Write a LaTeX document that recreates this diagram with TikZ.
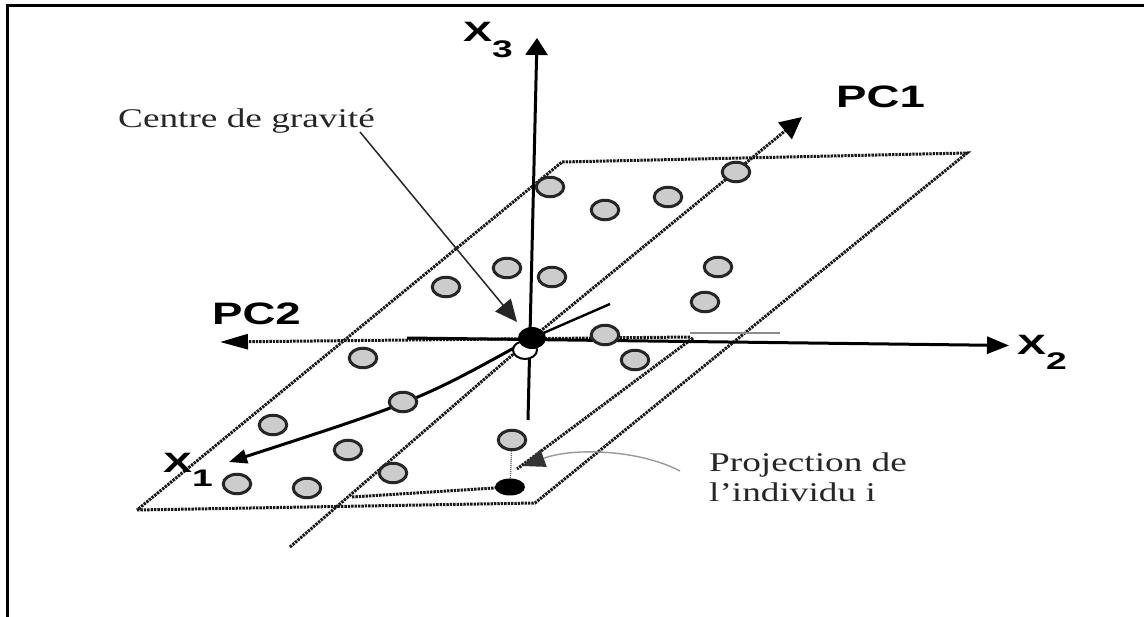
\documentclass[tikz,border=0pt]{standalone}
\usepackage{fontspec}
\setmainfont{Liberation Serif}
\setsansfont{Liberation Sans}
\usepackage{graphicx}
\usetikzlibrary{arrows.meta,shapes.geometric}
\begin{document}
\begin{tikzpicture}[x=1pt,y=-1pt,
  dots/.style={draw=black!90, line width=3pt, dash pattern=on 2.4pt off 1pt},
  axis/.style={draw=black, line width=3pt},
  gp/.style={ellipse, draw=black!85, fill=black!20, line width=3pt, minimum width=27.5pt, minimum height=19.5pt, inner sep=0pt},
  bdot/.style={ellipse, fill=black, inner sep=0pt},
  lbl/.style={inner sep=0pt, anchor=base west, text=black},
  txt/.style={inner sep=0pt, anchor=base west, text=black!85},
]
\useasboundingbox (0,0) rectangle (1144,617);
% frame
\coordinate (f1) at (7.5,617);
\coordinate (f2) at (7.5,5.5);
\coordinate (f3) at (1144,5.5);
\draw[line width=2.4pt] (f1) -- (f2) -- (f3);

% plane
\coordinate (p1) at (137,510);
\coordinate (p2) at (535,503);
\coordinate (p3) at (967,153);
\coordinate (p4) at (562,162);
\draw[dots] (p1) -- (p2) -- (p3) -- (p4) -- cycle;

% key points
\coordinate (o) at (532,338);
\coordinate (pd) at (510,487);

% inner line
\coordinate (in1) at (693,338);
\coordinate (in2) at (517,469);
\draw[dots] (in1) -- (in2);

% PC1 axis
\coordinate (pc1a) at (290,547);
\coordinate (pc1b) at (802,117);
\draw[dots, -{Triangle[length=22pt,width=21pt,color=black]}] (pc1a) -- (o) -- (pc1b);

% projection line
\coordinate (pr1) at (352,497);
\draw[dots] (pr1) -- (pd);

% PC2 axis
\coordinate (pc2a) at (690,337);
\coordinate (pc2b) at (220,342);
\coordinate (pc2c) at (690,333);
\coordinate (pc2d) at (780,333);
\draw[black!45, line width=1.6pt] (pc2c) -- (pc2d);
\draw[dots, -{Triangle[length=28pt,width=15pt,color=black]}] (pc2a) -- (pc2b);

% X2 axis
\coordinate (x2a) at (407,338);
\coordinate (x2b) at (1009,345.5);
\draw[axis, -{Triangle[length=22pt,width=17pt]}] (x2a) -- (x2b);

% X3 axis
\coordinate (x3a) at (528,420);
\coordinate (x3b) at (537,38);
\draw[axis, -{Triangle[length=17pt,width=22pt]}] (x3a) -- (x3b);

% X1 axis
\coordinate (x1a) at (610,304);
\coordinate (x1b) at (229,462);
\draw[axis, line width=2.4pt] (x1a) -- (o);
\draw[axis, -{Triangle[length=18pt,width=14pt]}] (o) .. controls (420,400) .. (x1b);

% individuals
\node[gp] (c1) at (550,187) {};
\node[gp] (c2) at (605,210) {};
\node[gp] (c3) at (668,197) {};
\node[gp] (c4) at (736,172) {};
\node[gp] (c5) at (507,268) {};
\node[gp] (c6) at (552,277) {};
\node[gp] (c7) at (446,287) {};
\node[gp] (c8) at (718,267) {};
\node[gp] (c9) at (705,302) {};
\node[gp] (c10) at (605,335) {};
\node[gp] (c11) at (635,360) {};
\node[gp] (c12) at (363,358) {};
\node[gp] (c13) at (403,402) {};
\node[gp] (c14) at (273,425) {};
\node[gp] (c15) at (348,450) {};
\node[gp] (c16) at (512,440) {};
\node[gp] (c17) at (393,473) {};
\node[gp] (c18) at (237,484) {};
\node[gp] (c19) at (307,488) {};

% projection of individual i
\draw[black!60, line width=1.4pt, dash pattern=on 1pt off 1pt] (c16) -- (pd);
\node[bdot, minimum width=30pt, minimum height=17pt] (Pd) at (pd) {};

% centre of gravity
\node[ellipse, draw=black, fill=white, line width=2pt, minimum width=24pt, minimum height=18pt, inner sep=0pt] (W) at (525,350) {};
\node[bdot, minimum width=28pt, minimum height=22pt] (O) at (o) {};

% axis labels
\node[lbl] (PC1) at (836,108) {\scalebox{1.47}[1]{\fontsize{31}{31}\selectfont\sffamily\bfseries PC1}};
\node[lbl] (PC2) at (212,325) {\scalebox{1.47}[1]{\fontsize{31}{31}\selectfont\sffamily\bfseries PC2}};
\node[lbl] (X3) at (463,42) {\scalebox{1.55}[1]{\fontsize{28}{28}\selectfont\sffamily\bfseries X\raisebox{-16pt}{\fontsize{24}{24}\selectfont 3}}};
\node[lbl] (X2) at (1017,355) {\scalebox{1.55}[1]{\fontsize{28}{28}\selectfont\sffamily\bfseries X\raisebox{-15pt}{\fontsize{24}{24}\selectfont 2}}};
\node[lbl] (X1) at (163,473) {\scalebox{1.55}[1]{\fontsize{28}{28}\selectfont\sffamily\bfseries X\raisebox{-14pt}{\fontsize{24}{24}\selectfont 1}}};

% annotations
\node[txt] (cg) at (118,127.5) {\scalebox{1.38}[1]{\fontsize{27}{30}\selectfont Centre de gravité}};
\node[txt] (proj) at (709,471.7) {\scalebox{1.38}[1]{\fontsize{27}{30}\selectfont\begin{tabular}[t]{@{}l@{}}Projection de\\l’individu i\end{tabular}}};

\coordinate (cgs) at (360,132);
\coordinate (cgt) at (517,322);
\draw[black!85, line width=1.5pt, -{Triangle[length=22pt,width=20pt]}] (cgs) -- (cgt);

\coordinate (prs) at (680,471);
\coordinate (prt) at (522,466);
\draw[black!40, line width=1.4pt, -{Triangle[length=23pt,width=18pt,color=black!80]}] (prs) .. controls (640,450) and (575,447) .. (prt);
\end{tikzpicture}
\end{document}
